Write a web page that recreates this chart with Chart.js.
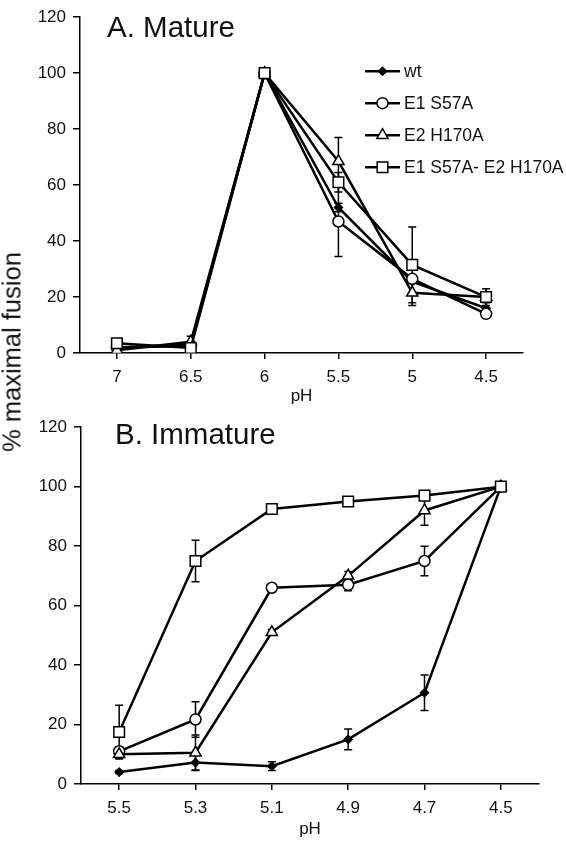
<!DOCTYPE html>
<html>
<head>
<meta charset="utf-8">
<script src="https://cdn.jsdelivr.net/npm/chart.js@4/dist/chart.umd.min.js"></script>
<style>
  body { margin: 0; background: #fff; width: 566px; height: 842px; position: relative; overflow: hidden; }
  canvas { position: absolute; left: 0; }
  #c1 { top: 0; }
  #c2 { top: 410px; }
  .panel { position: absolute; font-family: "Liberation Sans", Arial, sans-serif; font-size: 29.5px; color: #111; }
  #yTitle { position: absolute; left: 12px; top: 352px; transform: translate(-50%, -50%) rotate(-90deg);
            font-family: "Liberation Sans", Arial, sans-serif; font-size: 25.5px; color: #111; white-space: nowrap; }
</style>
</head>
<body>
<canvas id="c1" width="566" height="410"></canvas>
<canvas id="c2" width="566" height="432"></canvas>
<div class="panel" style="left:107px; top:10px;">A. Mature</div>
<div class="panel" style="left:115px; top:417px;">B. Immature</div>
<div id="yTitle">% maximal fusion</div>
<script>
// series names
const seriesNames = ['wt', 'E1 S57A', 'E2 H170A', 'E1 S57A- E2 H170A'];

// A. Mature
const matureLabels = ['7', '6.5', '6', '5.5', '5', '4.5'];
const matureWt = [2, 3, 100, 52, 25.5, 16];
const matureS57A = [2, 2.5, 100, 47, 26.5, 14];
const matureH170A = [1, 4, 100, 68.5, 21.5, 20];
const matureDouble = [3.5, 1.8, 100, 61, 31.5, 20];
const matureWtErr = [0, 0, 0, 1.5, 0, 2];
const matureS57AErr = [0, 0, 0, 12.5, 0, 0];
const matureH170AErr = [0, 2, 0, 8.5, 4.5, 0];
const matureDoubleErr = [1, 1, 0, 3.5, 13.5, 3];

// B. Immature
const immatureLabels = ['5.5', '5.3', '5.1', '4.9', '4.7', '4.5'];
const immatureWt = [4, 7.2, 6, 15, 30.7, 100];
const immatureS57A = [11, 21.7, 66, 67, 75, 100];
const immatureH170A = [10, 10.5, 51, 70, 92, 100];
const immatureDouble = [17.5, 75, 92.5, 95, 97, 100];
const immatureWtErr = [0.5, 2.5, 1.5, 3.5, 6, 0];
const immatureS57AErr = [1.5, 6, 0, 2, 5, 0];
const immatureH170AErr = [1.5, 6, 1, 1.5, 5, 0];
const immatureDoubleErr = [9, 7, 0, 0, 0, 0];

const yTicks = { min: 0, max: 120, step: 20 };

const FONT = '"Liberation Sans", Arial, sans-serif';

// marker looks for each series
const markers = [
  { pointStyle: 'rectRot', radius: 4, fill: '#000' },
  { pointStyle: 'circle', radius: 5.5, fill: '#fff' },
  { pointStyle: 'triangle', radius: 6.5, fill: '#fff' },
  { pointStyle: 'rect', radius: 7.5, fill: '#fff' }
];

function makeDatasets(values, errs) {
  return values.map((v, i) => ({
    label: seriesNames[i],
    data: v,
    err: errs[i],
    order: values.length - 1 - i, // last series drawn on top
    borderColor: '#000',
    borderWidth: 2.5,
    pointStyle: markers[i].pointStyle,
    pointRadius: markers[i].radius,
    pointBackgroundColor: markers[i].fill,
    pointBorderColor: '#000',
    pointBorderWidth: 1.5,
    tension: 0
  }));
}

// error bars, drawn under the markers
const errorBars = {
  id: 'errorBars',
  beforeDatasetsDraw(chart) {
    const ctx = chart.ctx;
    const y = chart.scales.y;
    ctx.save();
    ctx.strokeStyle = '#000';
    ctx.lineWidth = 1.5;
    chart.data.datasets.forEach((ds, i) => {
      const meta = chart.getDatasetMeta(i);
      meta.data.forEach((pt, j) => {
        const e = ds.err[j];
        if (!e) return;
        const top = y.getPixelForValue(ds.data[j] + e);
        const bot = y.getPixelForValue(ds.data[j] - e);
        ctx.beginPath();
        ctx.moveTo(pt.x, top); ctx.lineTo(pt.x, bot);
        ctx.moveTo(pt.x - 4, top); ctx.lineTo(pt.x + 4, top);
        ctx.moveTo(pt.x - 4, bot); ctx.lineTo(pt.x + 4, bot);
        ctx.stroke();
      });
    });
    ctx.restore();
  }
};

// legend as in the figure: short line with the marker in its middle
const lineLegend = {
  id: 'lineLegend',
  afterDraw(chart, args, opts) {
    if (!opts.show) return;
    const ctx = chart.ctx;
    const x0 = chart.chartArea.left + 285;
    const y0 = chart.chartArea.top + 54;
    ctx.save();
    chart.data.datasets.forEach((ds, i) => {
      const yy = y0 + i * 32;
      ctx.strokeStyle = '#000';
      ctx.lineWidth = 2.5;
      ctx.beginPath();
      ctx.moveTo(x0, yy); ctx.lineTo(x0 + 35, yy);
      ctx.stroke();
      ctx.fillStyle = ds.pointBackgroundColor;
      ctx.lineWidth = 1.5;
      Chart.helpers.drawPoint(ctx, { pointStyle: ds.pointStyle, radius: ds.pointRadius, borderWidth: 1.5 }, x0 + 17.5, yy);
      ctx.fillStyle = '#111';
      ctx.font = '17.5px ' + FONT;
      ctx.textBaseline = 'middle';
      ctx.fillText(ds.label, x0 + 39, yy + 1);
    });
    ctx.restore();
  }
};

function makeChart(id, labels, datasets, pad, yWidth, xHeight, showLegend, titleBottom) {
  return new Chart(document.getElementById(id), {
    type: 'line',
    data: { labels: labels, datasets: datasets },
    plugins: [errorBars, lineLegend],
    options: {
      responsive: false,
      animation: false,
      layout: { padding: pad },
      plugins: {
        legend: { display: false },
        tooltip: { enabled: false },
        lineLegend: { show: showLegend }
      },
      scales: {
        x: {
          offset: true,
          grid: { drawOnChartArea: false, drawTicks: true, tickLength: 6, color: '#000', lineWidth: 1.5 },
          border: { color: '#000', width: 1.5 },
          ticks: { color: '#111', font: { family: FONT, size: 17 }, padding: 8, maxRotation: 0 },
          title: { display: true, text: 'pH', color: '#111', font: { family: FONT, size: 17 }, padding: { top: 0, bottom: titleBottom } },
          afterFit(scale) { scale.height = xHeight; }
        },
        y: {
          min: yTicks.min,
          max: yTicks.max,
          grid: { drawOnChartArea: false, drawTicks: true, tickLength: 7, color: '#000', lineWidth: 1.5 },
          border: { color: '#000', width: 1.5 },
          ticks: { stepSize: yTicks.step, color: '#111', font: { family: FONT, size: 17 }, padding: 7 },
          afterFit(scale) { scale.width = yWidth; }
        }
      }
    }
  });
}

makeChart('c1', matureLabels,
  makeDatasets([matureWt, matureS57A, matureH170A, matureDouble],
               [matureWtErr, matureS57AErr, matureH170AErr, matureDoubleErr]),
  { top: 13, right: 43, left: 0, bottom: 0 }, 80, 57, true, 3);

makeChart('c2', immatureLabels,
  makeDatasets([immatureWt, immatureS57A, immatureH170A, immatureDouble],
               [immatureWtErr, immatureS57AErr, immatureH170AErr, immatureDoubleErr]),
  { top: 7, right: 27, left: 0, bottom: 0 }, 81, 58, false, 2);
</script>
</body>
</html>
